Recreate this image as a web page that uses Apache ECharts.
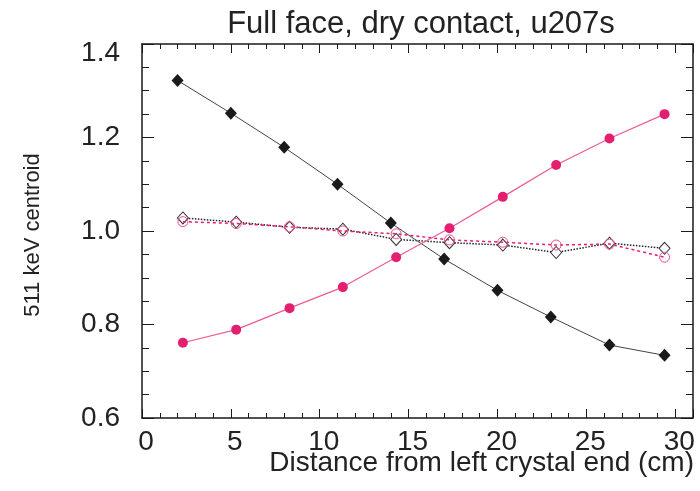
<!DOCTYPE html>
<html>
<head>
<meta charset="utf-8">
<script src="https://cdn.jsdelivr.net/npm/echarts@6/dist/echarts.min.js"></script>
<style>
  html, body { margin: 0; padding: 0; background: #fff; }
  #chart { width: 700px; height: 491px; }
</style>
</head>
<body>
<div id="chart"></div>
<script>
// 数据
const blackX = [2.0, 5.0, 8.0, 11.0, 14.0, 17.0, 20.0, 23.0, 26.3, 29.4];
const pinkX = [2.3, 5.3, 8.3, 11.3, 14.3, 17.3, 20.3, 23.3, 26.3, 29.4];
const blackFilled = [1.322, 1.252, 1.179, 1.100, 1.017, 0.940, 0.873, 0.816, 0.756, 0.734];
const pinkFilled = [0.761, 0.789, 0.835, 0.880, 0.944, 1.006, 1.073, 1.141, 1.198, 1.250];
const blackOpen = [1.028, 1.019, 1.008, 1.004, 0.982, 0.975, 0.970, 0.954, 0.974, 0.963];
const pinkOpen = [1.020, 1.016, 1.009, 1.000, 0.994, 0.981, 0.976, 0.970, 0.972, 0.944];

const titleText = 'Full face, dry contact, u207s';
const xName = 'Distance from left crystal end (cm)';
const yName = '511 keV centroid';

const FONT = 'Liberation Sans, Arial, sans-serif';
const PINK = '#e2206f';
const INK = '#1a1a1a';

function pairs(xs, ys) {
    return xs.map((x, i) => [x, ys[i]]);
}

const chart = echarts.init(document.getElementById('chart'));

// 轴：细刻度 + 主刻度 分两条轴叠画
function xAx(pos, interval, len, withLabel, withLine) {
    return {
        type: 'value', position: pos, min: 0, max: 31, interval: interval,
        axisLine: { show: withLine, onZero: false, lineStyle: { color: INK, width: 1.5 } },
        axisTick: { show: true, inside: true, length: len, lineStyle: { color: INK, width: 1 } },
        axisLabel: withLabel ? {
            show: true, margin: 10, color: '#222', fontFamily: FONT, fontSize: 28,
            padding: [0, 0, 0, 8],
            formatter: v => (v % 5 === 0 ? String(v) : '')
        } : { show: false },
        splitLine: { show: false }
    };
}
function yAx(pos, interval, len, withLabel, withLine) {
    return {
        type: 'value', position: pos, min: 0.6, max: 1.4, interval: interval,
        axisLine: { show: withLine, onZero: false, lineStyle: { color: INK, width: 1.5 } },
        axisTick: { show: true, inside: true, length: len, lineStyle: { color: INK, width: 1 } },
        axisLabel: withLabel ? {
            show: true, margin: 22, color: '#222', fontFamily: FONT, fontSize: 28,
            formatter: v => {
                if (Math.abs(v * 5 - Math.round(v * 5)) > 1e-6) return '';
                // 顶部标签在原图里略低
                return v > 1.39 ? '{low|' + v.toFixed(1) + '}' : v.toFixed(1);
            },
            rich: { low: { fontFamily: FONT, fontSize: 28, color: '#222', padding: [18, 0, 0, 0] } }
        } : { show: false },
        splitLine: { show: false }
    };
}

const option = {
    backgroundColor: '#fff',
    animation: false,
    title: {
        text: titleText, left: 416, top: 4, textAlign: 'center',
        textStyle: { fontFamily: FONT, fontSize: 31, fontWeight: 'normal', color: '#222' }
    },
    grid: { left: 142, right: 7, top: 44, bottom: 73 },
    xAxis: [
        xAx('bottom', 1, 5, true, true),
        xAx('bottom', 5, 9, false, false),
        xAx('top', 1, 5, false, true),
        xAx('top', 5, 9, false, false)
    ],
    yAxis: [
        yAx('left', 0.05, 7, true, true),
        yAx('left', 0.2, 12, false, false),
        yAx('right', 0.05, 7, false, true),
        yAx('right', 0.2, 12, false, false)
    ],
    graphic: [
        {
            type: 'text', x: 33, y: 235, rotation: Math.PI / 2,
            style: { text: yName, font: '22px ' + FONT, fill: '#222', align: 'center', verticalAlign: 'middle' }
        },
        {
            type: 'text', x: 694, y: 463,
            style: { text: xName, font: '28px ' + FONT, fill: '#222', align: 'right', verticalAlign: 'middle' }
        }
    ],
    series: [
        {
            name: 'black open', type: 'line', data: pairs(pinkX, blackOpen),
            symbol: 'diamond', symbolSize: [11, 12],
            itemStyle: { color: '#fff', borderColor: '#333', borderWidth: 1 },
            lineStyle: { color: '#222', width: 1.5, type: 'dotted' }, z: 3
        },
        {
            name: 'pink open', type: 'line', data: pairs(pinkX, pinkOpen),
            symbol: 'circle', symbolSize: 10,
            itemStyle: { color: 'rgba(255,255,255,0)', borderColor: '#ec4f8c', borderWidth: 1 },
            lineStyle: { color: PINK, width: 1.5, type: [3, 3] }, z: 4
        },
        {
            name: 'black filled', type: 'line', data: pairs(blackX, blackFilled),
            symbol: 'diamond', symbolSize: [12, 13],
            itemStyle: { color: INK },
            lineStyle: { color: '#444', width: 1 }, z: 5
        },
        {
            name: 'pink filled', type: 'line', data: pairs(pinkX, pinkFilled),
            symbol: 'circle', symbolSize: 10,
            itemStyle: { color: PINK },
            lineStyle: { color: '#ec5a98', width: 1.2 }, z: 5
        }
    ]
};

chart.setOption(option);
</script>
</body>
</html>
